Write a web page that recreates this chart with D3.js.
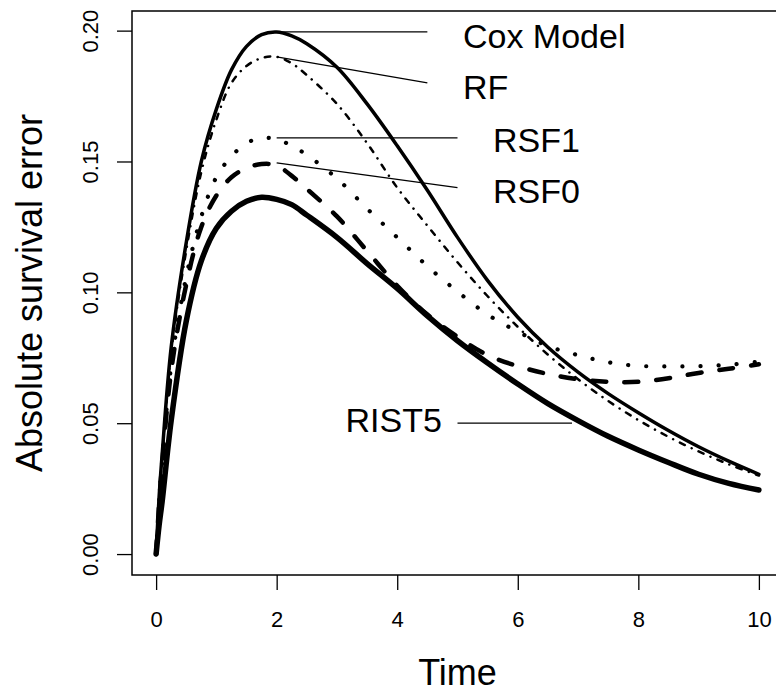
<!DOCTYPE html>
<html>
<head>
<meta charset="utf-8">
<script src="https://cdn.jsdelivr.net/npm/d3@7"></script>
<style>
    body { margin: 0; background: #fff; }
    svg { display: block; font-family: 'Liberation Sans', Arial, sans-serif; }
    .tick line { stroke: #000; stroke-width: 1.3; }
    .axis-title { font-size: 36px; }
    .curve-label { font-size: 34px; }
</style>
</head>
<body>
<svg width="776" height="694"></svg>
<script>
// Time grid the curves were read at
var times = [0, 0.05, 0.1, 0.25, 0.5, 0.75, 1, 1.25, 1.5, 1.75, 2, 2.25, 2.5, 3, 3.5,
    4, 4.5, 5, 5.5, 6, 6.5, 7, 7.5, 8, 8.5, 9, 9.5, 10];

// Absolute survival error per model
var coxValues = [0, 0.022, 0.038, 0.079, 0.119, 0.150, 0.170, 0.185, 0.194, 0.1985, 0.1995, 0.198, 0.195, 0.186, 0.172,
    0.156, 0.139, 0.121, 0.1045, 0.0905, 0.079, 0.0695, 0.0613, 0.054, 0.0472, 0.041, 0.0355, 0.0305];
var rfValues = [0, 0.021, 0.037, 0.077, 0.116, 0.146, 0.166, 0.180, 0.1865, 0.1895, 0.190, 0.1875, 0.183, 0.172, 0.157,
    0.140, 0.1255, 0.1115, 0.0985, 0.0868, 0.0762, 0.0668, 0.0585, 0.0512, 0.0448, 0.0392, 0.0343, 0.030];
var rsf1Values = [0, 0.020, 0.035, 0.072, 0.106, 0.129, 0.144, 0.152, 0.157, 0.159, 0.1585, 0.156, 0.1525, 0.1435, 0.132,
    0.121, 0.110, 0.1003, 0.0915, 0.085, 0.0795, 0.076, 0.0733, 0.0719, 0.0717, 0.0718, 0.0723, 0.0735];
var rsf0Values = [0, 0.019, 0.034, 0.070, 0.103, 0.125, 0.137, 0.144, 0.1475, 0.149, 0.1485, 0.1445, 0.1395, 0.129, 0.1158,
    0.1025, 0.0915, 0.083, 0.076, 0.0718, 0.0688, 0.0668, 0.0658, 0.0658, 0.0672, 0.0692, 0.0708, 0.0725];
var ristValues = [0, 0.011, 0.020, 0.051, 0.089, 0.112, 0.1245, 0.131, 0.1348, 0.1363, 0.1355, 0.1335, 0.1295, 0.121, 0.111,
    0.1015, 0.091, 0.0815, 0.073, 0.065, 0.0575, 0.051, 0.045, 0.0398, 0.035, 0.0305, 0.027, 0.0245];

var seriesNames = ['Cox Model', 'RF', 'RSF1', 'RSF0', 'RIST5'];
var seriesValues = [coxValues, rfValues, rsf1Values, rsf0Values, ristValues];

// Pointer lines (data coords): from curve to label, and where the label sits
var pointerFrom = [[2.0, 0.1995], [2.0, 0.190], [2.0, 0.159], [2.0, 0.1495], [5.0, 0.050]];
var pointerTo = [[4.5, 0.1995], [4.5, 0.180], [5.0, 0.159], [5.0, 0.140], [6.9, 0.050]];
var labelAt = [[5.09, 0.1978], [5.09, 0.1784], [5.59, 0.1581], [5.59, 0.1388], [4.74, 0.0513]];

var xTicks = [0, 2, 4, 6, 8, 10];
var yTicks = [0, 0.05, 0.10, 0.15, 0.20];

// Line styles, one per series
var styles = {
    'Cox Model': {width: 3.5, dash: null},
    'RF': {width: 2.5, dash: '0.1,7.5,5.5,7.5'},
    'RSF1': {width: 4.2, dash: '0.1,18'},
    'RSF0': {width: 4.5, dash: '14,18'},
    'RIST5': {width: 5.5, dash: null}
};

var svg = d3.select('svg');

// Plot box (R style: the data range padded by 4% on each side)
var box = {l: 132, r: 783, t: 11, b: 575};

var xScale = d3.scaleLinear()
    .domain([-0.4, 10.4])
    .range([box.l, box.r]);

var yScale = d3.scaleLinear()
    .domain([-0.008, 0.2075])
    .range([box.b, box.t]);

// Axes
var xAxis = svg.append('g')
    .attr('transform', 'translate(' + [0, box.b] + ')')
    .call(d3.axisBottom(xScale).tickValues(xTicks).tickSize(15).tickFormat(d3.format('d')))
    .attr('font-size', 22)
    .attr('font-family', null);
xAxis.select('.domain').remove();
xAxis.selectAll('.tick text')
    .attr('y', 52)
    .attr('dy', null);

var yAxis = svg.append('g')
    .attr('transform', 'translate(' + [box.l, 0] + ')')
    .call(d3.axisLeft(yScale).tickValues(yTicks).tickSize(15).tickFormat(d3.format('.2f')))
    .attr('font-size', 22)
    .attr('font-family', null);
yAxis.select('.domain').remove();
yAxis.selectAll('.tick text')
    .attr('x', null)
    .attr('dy', null)
    .attr('text-anchor', 'middle')
    .attr('transform', 'translate(-34,0) rotate(-90)');

// Box around the plot
svg.append('rect')
    .attr('x', box.l)
    .attr('y', box.t)
    .attr('width', box.r - box.l)
    .attr('height', box.b - box.t)
    .attr('fill', 'none')
    .attr('stroke', '#000')
    .attr('stroke-width', 1.5);

// Axis titles
svg.append('text')
    .attr('class', 'axis-title')
    .attr('x', (box.l + box.r) / 2)
    .attr('y', 685)
    .attr('text-anchor', 'middle')
    .text('Time');

svg.append('text')
    .attr('class', 'axis-title')
    .attr('transform', 'translate(' + [42, (box.t + box.b) / 2] + ') rotate(-90)')
    .attr('text-anchor', 'middle')
    .text('Absolute survival error');

// Curves
var line = d3.line()
    .x(function(d) { return xScale(d[0]); })
    .y(function(d) { return yScale(d[1]); })
    .curve(d3.curveCatmullRom.alpha(0.5));

var plotG = svg.append('g');

seriesNames.forEach(function(name, i) {
    var pts = times.map(function(t, j) { return [t, seriesValues[i][j]]; });
    var st = styles[name];
    plotG.append('path')
        .datum(pts)
        .attr('d', line)
        .attr('fill', 'none')
        .attr('stroke', '#000')
        .attr('stroke-width', st.width)
        .attr('stroke-linecap', 'round')
        .attr('stroke-linejoin', 'round')
        .attr('stroke-dasharray', st.dash);
});

// Pointer lines and labels
seriesNames.forEach(function(name, i) {
    plotG.append('line')
        .attr('x1', xScale(pointerFrom[i][0]))
        .attr('y1', yScale(pointerFrom[i][1]))
        .attr('x2', xScale(pointerTo[i][0]))
        .attr('y2', yScale(pointerTo[i][1]))
        .attr('stroke', '#000')
        .attr('stroke-width', 1.3);

    // RIST5 sits to the left of its pointer, the others to the right
    var isLeft = labelAt[i][0] < pointerFrom[i][0];
    svg.append('text')
        .attr('class', 'curve-label')
        .attr('x', xScale(labelAt[i][0]))
        .attr('y', yScale(labelAt[i][1]) + 12)
        .attr('text-anchor', isLeft ? 'end' : 'start')
        .text(name);
});
</script>
</body>
</html>
